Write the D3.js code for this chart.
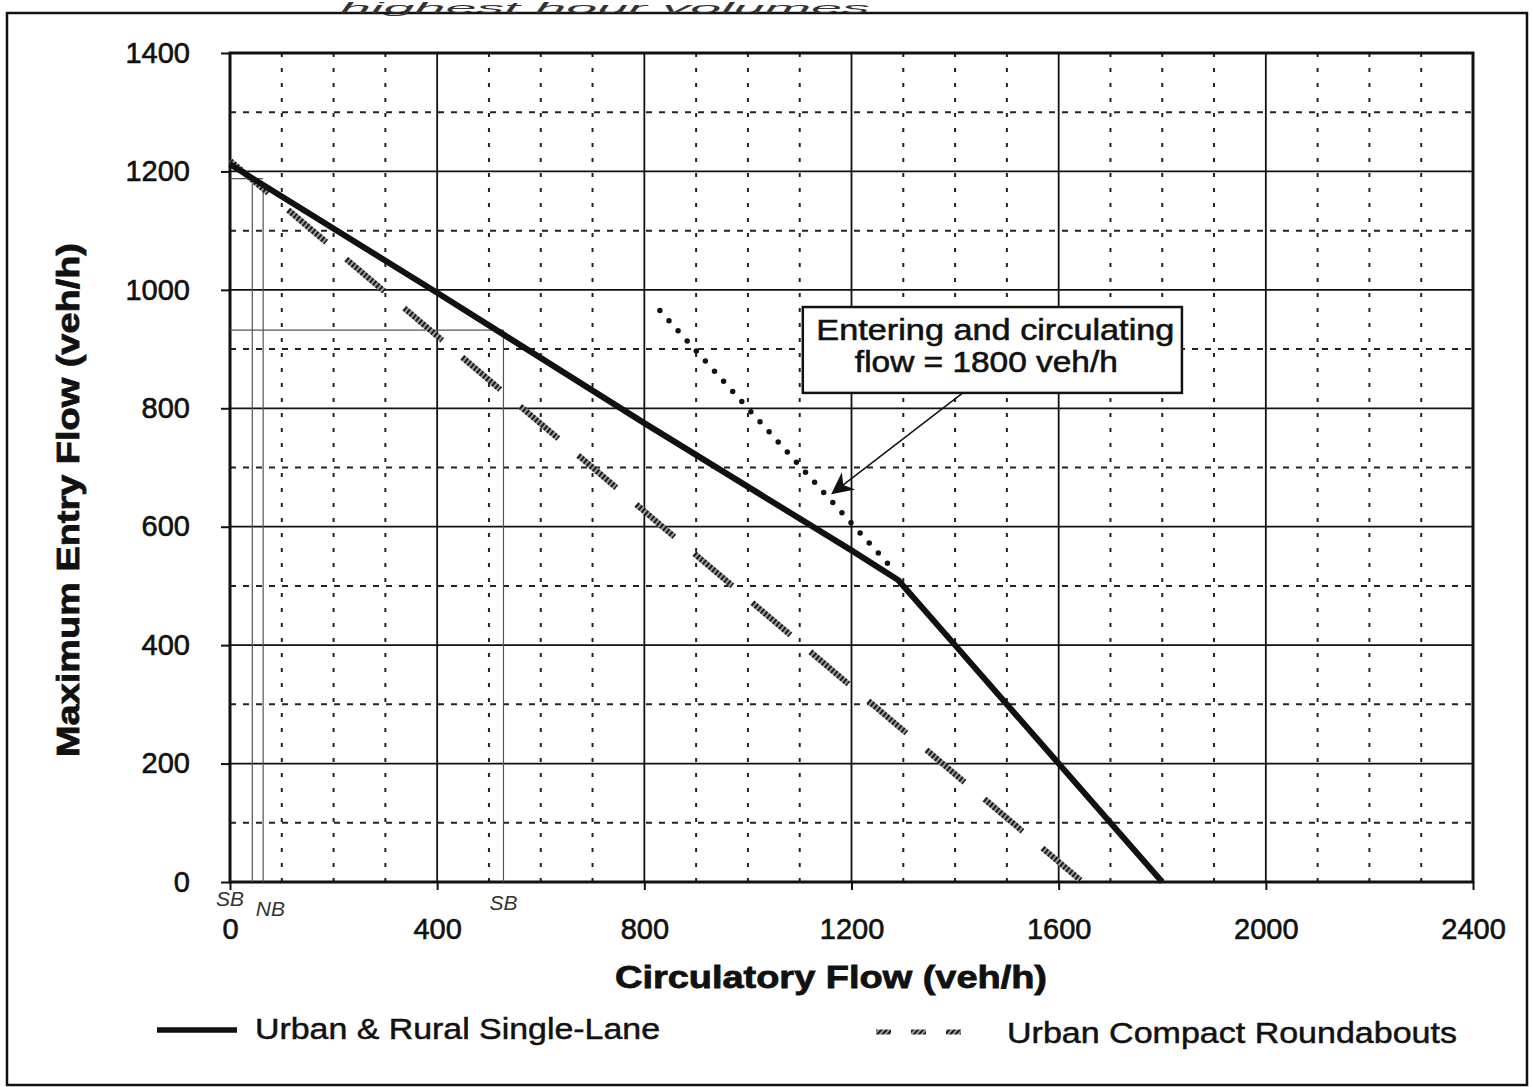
<!DOCTYPE html>
<html>
<head>
<meta charset="utf-8">
<script src="https://cdn.jsdelivr.net/npm/d3@7"></script>
<style>
  html, body { margin: 0; padding: 0; background: #fff; }
  svg { display: block; }
  text { font-family: "Liberation Sans", Arial, Helvetica, sans-serif; fill: #111; }
</style>
</head>
<body>
<svg id="chart" width="1533" height="1087"></svg>
<script>
// ---------------- data ----------------
const xTicks = [0, 400, 800, 1200, 1600, 2000, 2400];
const yTicks = [0, 200, 400, 600, 800, 1000, 1200, 1400];
const xMinor = [100, 200, 300, 500, 600, 700, 900, 1000, 1100, 1300, 1400, 1500, 1700, 1800, 1900, 2100, 2200, 2300];
const yMinor = [100, 300, 500, 700, 900, 1100, 1300];

// Urban & Rural Single-Lane (circulatory flow, max entry flow)
const singleLane = [[0, 1212], [400, 995], [800, 775], [1200, 560], [1290, 510], [1400, 400], [1600, 200], [1800, 0]];
// Urban Compact Roundabouts
const compact = [[0, 1218], [400, 922], [800, 626], [1200, 330], [1646, 0]];
// Entering + circulating = 1800 veh/h (dotted)
const total1800 = [[830, 965], [1278, 530]];

// hand-drawn reading lines
const handLines = [
  [[43, 1188], [43, 0]],
  [[64, 1178], [64, 0]],
  [[0, 1188], [64, 1188]],
  [[0, 932], [528, 932]],
  [[528, 932], [528, 0]]
];
const handLabels = [{x: 0, t: "SB", dy: 24}, {x: 78, t: "NB", dy: 34}, {x: 528, t: "SB", dy: 28}];

const annotationLines = ["Entering and circulating", "flow = 1800 veh/h"];
const annotationBox = {x0: 1106, x1: 1838, y0: 826, y1: 971};
const annotationArrow = [[1415, 826], [1164, 657]];

const legendItems = ["Urban & Rural Single-Lane", "Urban Compact Roundabouts"];
const xTitle = "Circulatory Flow (veh/h)";
const yTitle = "Maximum Entry Flow (veh/h)";
const topNote = "highest hour volumes";

// ---------------- drawing ----------------
const svg = d3.select("#chart");
const x = d3.scaleLinear().domain([0, 2400]).range([230, 1473]);
const y = d3.scaleLinear().domain([0, 1400]).range([882, 53]);

const defs = svg.append("defs");
const pat = defs.append("pattern").attr("id", "hatch").attr("patternUnits", "userSpaceOnUse")
  .attr("width", 4).attr("height", 4).attr("patternTransform", "rotate(40)");
pat.append("rect").attr("width", 4).attr("height", 4).attr("fill", "#9a9a9a");
pat.append("rect").attr("width", 2).attr("height", 4).attr("fill", "#1a1a1a");

// outer border
svg.append("rect").attr("x", 7).attr("y", 13).attr("width", 1520).attr("height", 1072)
  .attr("fill", "none").attr("stroke", "#111").attr("stroke-width", 2.5);

// handwritten note at top
svg.append("text").attr("x", 340).attr("y", 13).attr("font-size", 14)
  .attr("font-family", "Lato, 'DejaVu Sans', sans-serif").attr("font-weight", 300)
  .attr("font-style", "italic").attr("textLength", 530).attr("lengthAdjust", "spacingAndGlyphs")
  .style("fill", "#333").text(topNote);

const g = svg.append("g");

// minor dashed grid
g.selectAll("line.vmin").data(xMinor).join("line").attr("class", "vmin")
  .attr("x1", d => x(d)).attr("x2", d => x(d)).attr("y1", y(1400)).attr("y2", y(0))
  .attr("stroke", "#222").attr("stroke-width", 2).attr("stroke-dasharray", "4 11");
g.selectAll("line.hmin").data(yMinor).join("line").attr("class", "hmin")
  .attr("x1", x(0)).attr("x2", x(2400)).attr("y1", d => y(d)).attr("y2", d => y(d))
  .attr("stroke", "#222").attr("stroke-width", 2).attr("stroke-dasharray", "6 7");

// major solid grid
g.selectAll("line.vmaj").data(xTicks).join("line").attr("class", "vmaj")
  .attr("x1", d => x(d)).attr("x2", d => x(d)).attr("y1", y(1400)).attr("y2", y(0))
  .attr("stroke", "#111").attr("stroke-width", 1.8);
g.selectAll("line.hmaj").data(yTicks).join("line").attr("class", "hmaj")
  .attr("x1", x(0)).attr("x2", x(2400)).attr("y1", d => y(d)).attr("y2", d => y(d))
  .attr("stroke", "#111").attr("stroke-width", 1.8);

// frame
g.append("rect").attr("x", x(0)).attr("y", y(1400)).attr("width", x(2400) - x(0)).attr("height", y(0) - y(1400))
  .attr("fill", "none").attr("stroke", "#111").attr("stroke-width", 3);

// axes
const yAxis = g.append("g").attr("transform", `translate(${x(0)},0)`)
  .call(d3.axisLeft(y).tickValues(yTicks).tickSize(9).tickPadding(31).tickFormat(d3.format("d")));
const xAxis = g.append("g").attr("transform", `translate(0,${y(0)})`)
  .call(d3.axisBottom(x).tickValues(xTicks).tickSize(8).tickPadding(28).tickFormat(d3.format("d")));
[yAxis, xAxis].forEach(a => {
  a.select(".domain").remove();
  a.selectAll(".tick line").attr("stroke", "#111").attr("stroke-width", 2);
  a.selectAll(".tick text").attr("font-size", 29).attr("font-family", "'Liberation Sans', Arial, sans-serif")
    .style("fill", "#111").attr("stroke", "#111").attr("stroke-width", 0.6);
});

// hand-drawn thin lines
const line = d3.line().x(d => x(d[0])).y(d => y(d[1]));
g.selectAll("path.hand").data(handLines).join("path").attr("class", "hand")
  .attr("d", line).attr("fill", "none").attr("stroke", "#555").attr("stroke-width", 1.2);
g.selectAll("text.hand").data(handLabels).join("text").attr("class", "hand")
  .attr("x", d => x(d.x)).attr("y", d => y(0) + d.dy).attr("text-anchor", "middle")
  .attr("font-size", 21).attr("font-style", "italic").attr("font-family", "Lato, 'DejaVu Sans', sans-serif")
  .attr("font-weight", 300).style("fill", "#333").text(d => d.t);

// compact roundabouts (hatched dashes)
g.append("path").datum(compact).attr("d", line).attr("fill", "none")
  .attr("stroke", "url(#hatch)").attr("stroke-width", 6).attr("stroke-dasharray", "50 26");

// 1800 line (dotted)
g.append("path").datum(total1800).attr("d", line).attr("fill", "none")
  .attr("stroke", "#111").attr("stroke-width", 5.5).attr("stroke-linecap", "round")
  .attr("stroke-dasharray", "0 13.6");

// single-lane
g.append("path").datum(singleLane).attr("d", line).attr("fill", "none")
  .attr("stroke", "#111").attr("stroke-width", 6).attr("stroke-linejoin", "round");

// annotation arrow
defs.append("marker").attr("id", "arrow").attr("viewBox", "0 0 10 10").attr("refX", 9).attr("refY", 5)
  .attr("markerUnits", "userSpaceOnUse").attr("orient", "auto")
  .attr("markerWidth", 26).attr("markerHeight", 22)
  .append("path").attr("d", "M0,0 L10,5 L0,10 L3,5 Z").attr("fill", "#111");
g.append("path").datum(annotationArrow).attr("d", line).attr("fill", "none")
  .attr("stroke", "#111").attr("stroke-width", 1.5).attr("marker-end", "url(#arrow)");

// annotation box
g.append("rect").attr("x", x(annotationBox.x0)).attr("y", y(annotationBox.y1))
  .attr("width", x(annotationBox.x1) - x(annotationBox.x0)).attr("height", y(annotationBox.y0) - y(annotationBox.y1))
  .attr("fill", "#fff").attr("stroke", "#111").attr("stroke-width", 2.5);
const boxCx = (x(annotationBox.x0) + x(annotationBox.x1)) / 2;
g.append("text").attr("x", boxCx + 3).attr("y", y(annotationBox.y1) + 33).attr("text-anchor", "middle")
  .attr("font-size", 30).attr("textLength", 358).attr("lengthAdjust", "spacingAndGlyphs")
  .attr("stroke", "#111").attr("stroke-width", 0.6).text(annotationLines[0]);
g.append("text").attr("x", boxCx - 6).attr("y", y(annotationBox.y1) + 65).attr("text-anchor", "middle")
  .attr("font-size", 30).attr("textLength", 263).attr("lengthAdjust", "spacingAndGlyphs")
  .attr("stroke", "#111").attr("stroke-width", 0.6).text(annotationLines[1]);

// axis titles
svg.append("text").attr("x", 831).attr("y", 988).attr("text-anchor", "middle")
  .attr("font-size", 31).attr("font-weight", "bold").attr("textLength", 432).attr("lengthAdjust", "spacingAndGlyphs")
  .attr("stroke", "#111").attr("stroke-width", 0.8).text(xTitle);
svg.append("text").attr("transform", "translate(79,500) rotate(-90)").attr("text-anchor", "middle")
  .attr("font-size", 32).attr("font-weight", "bold").attr("textLength", 514).attr("lengthAdjust", "spacingAndGlyphs")
  .attr("stroke", "#111").attr("stroke-width", 0.8).text(yTitle);

// legend
const lg = svg.append("g");
lg.append("line").attr("x1", 157).attr("x2", 237).attr("y1", 1030).attr("y2", 1030)
  .attr("stroke", "#111").attr("stroke-width", 5.5);
lg.append("text").attr("x", 255).attr("y", 1039).attr("font-size", 30)
  .attr("textLength", 405).attr("lengthAdjust", "spacingAndGlyphs")
  .attr("stroke", "#111").attr("stroke-width", 0.5).text(legendItems[0]);
lg.append("line").attr("x1", 876).attr("x2", 972).attr("y1", 1032).attr("y2", 1032)
  .attr("stroke", "url(#hatch)").attr("stroke-width", 5).attr("stroke-dasharray", "15 20");
lg.append("text").attr("x", 1007).attr("y", 1043).attr("font-size", 30)
  .attr("textLength", 450).attr("lengthAdjust", "spacingAndGlyphs")
  .attr("stroke", "#111").attr("stroke-width", 0.5).text(legendItems[1]);
</script>
</body>
</html>
